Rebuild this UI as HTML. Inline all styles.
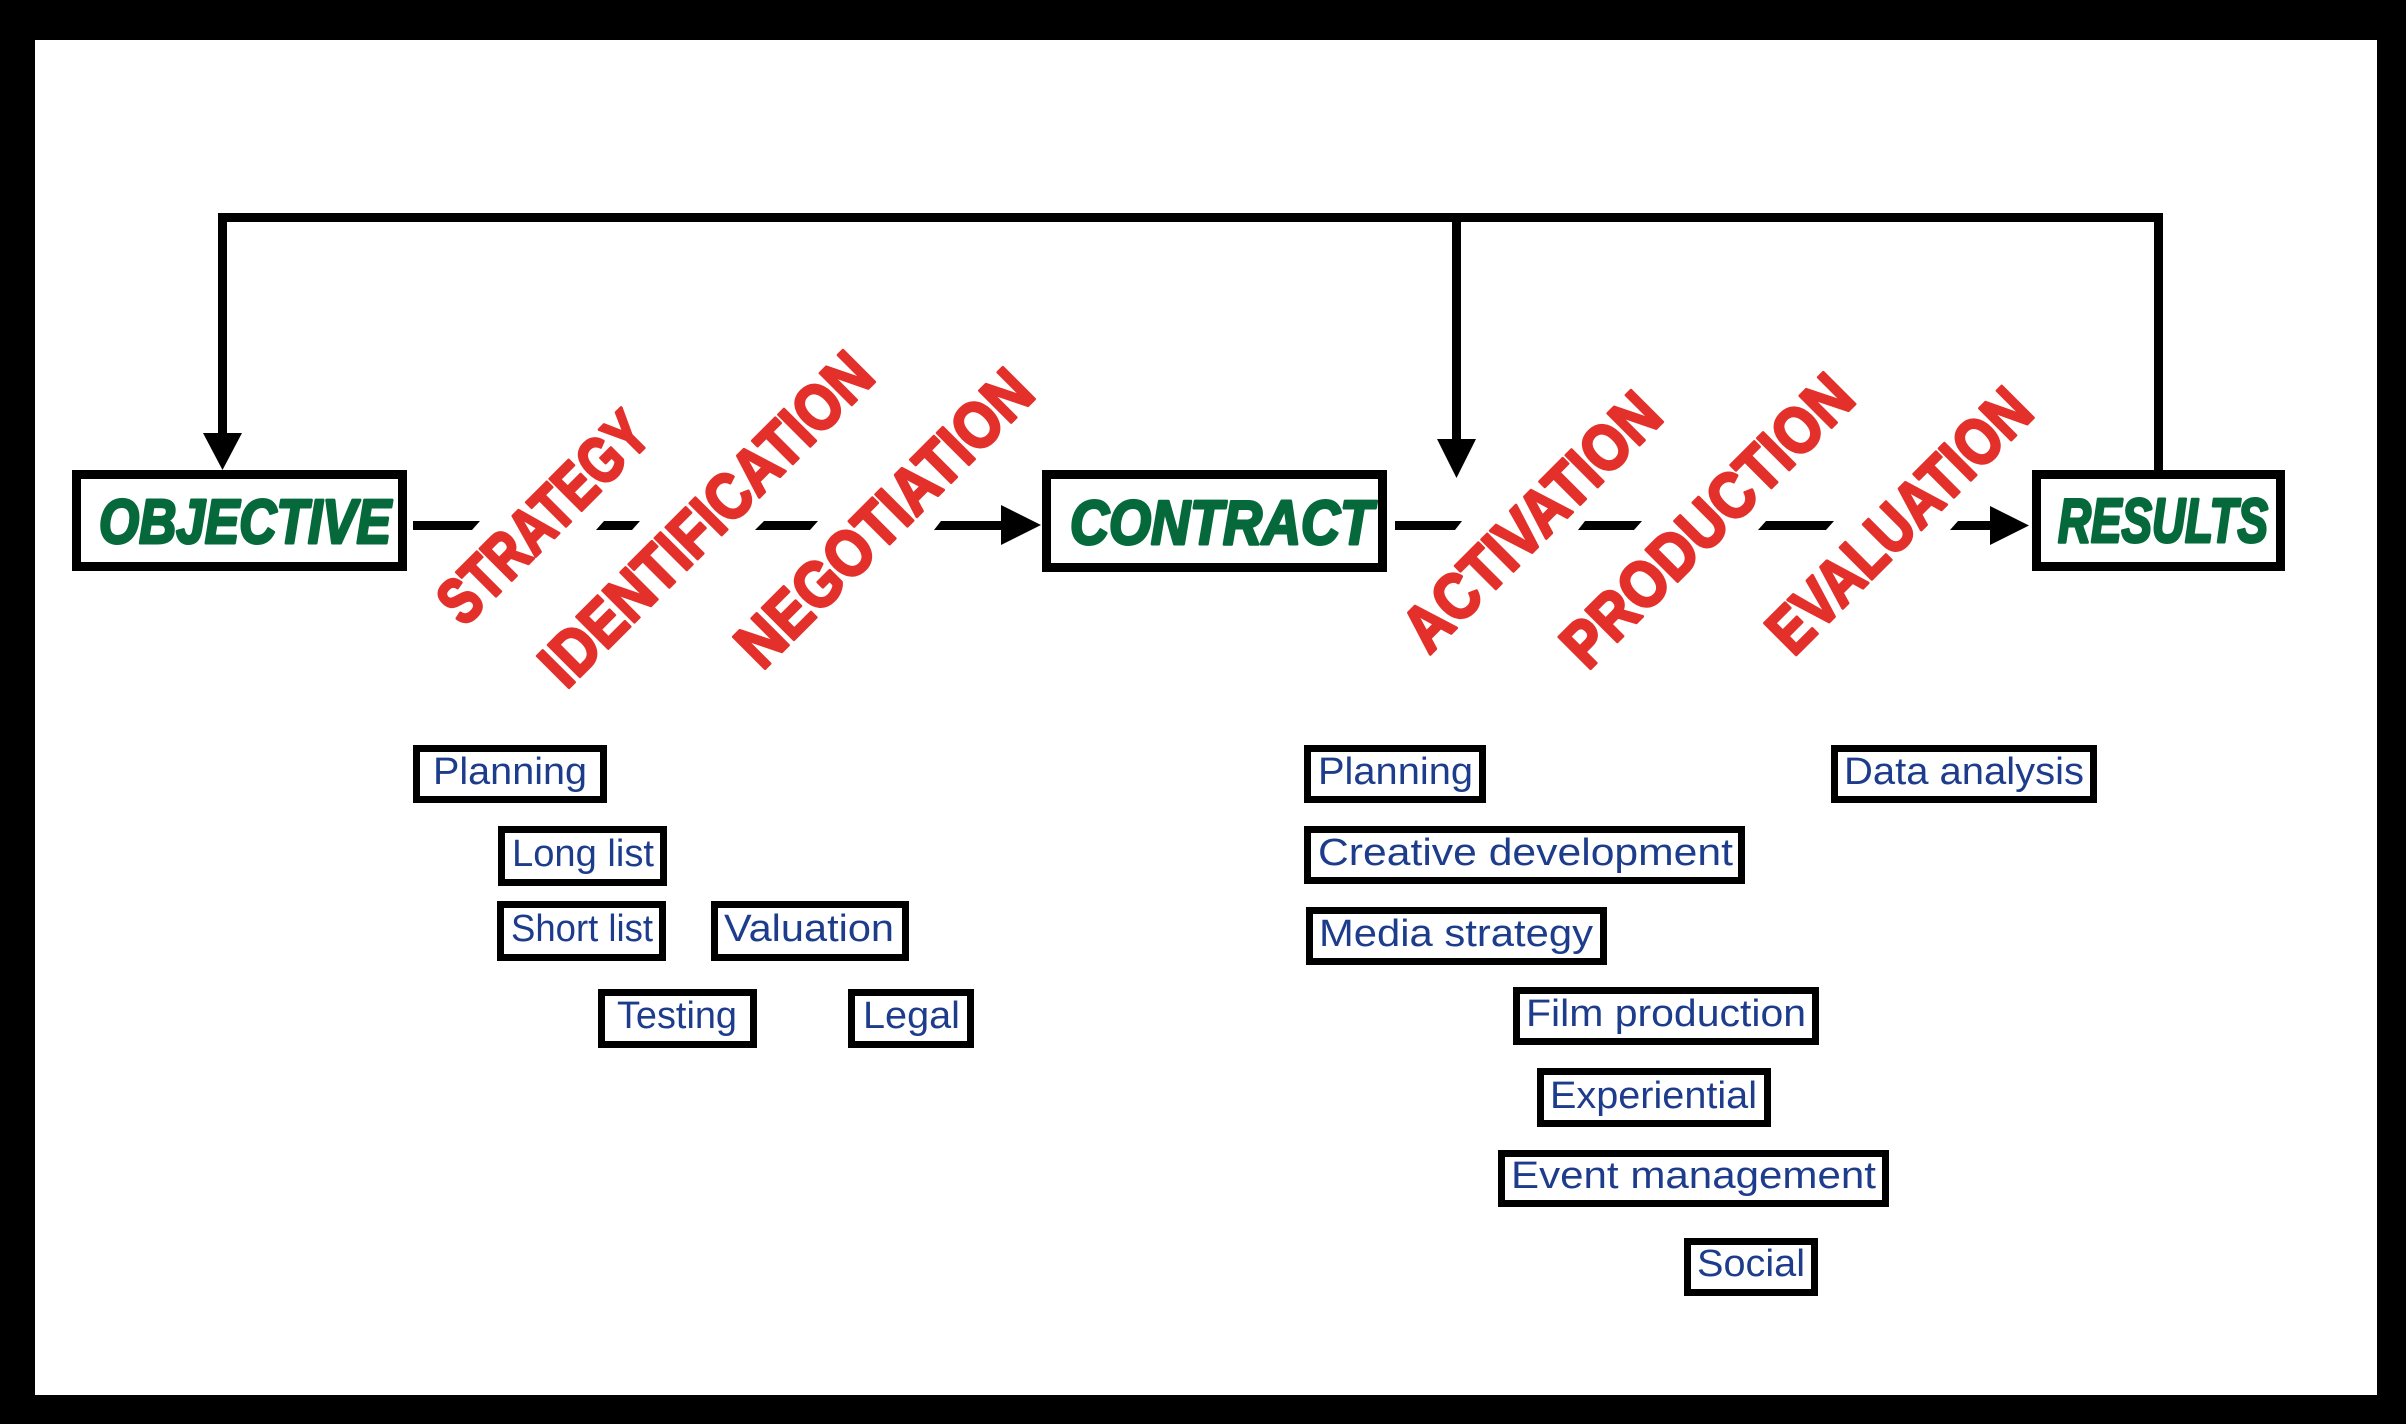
<!DOCTYPE html>
<html>
<head>
<meta charset="utf-8">
<style>
  html, body { margin: 0; padding: 0; background: #000; }
  svg { display: block; }
  .g { font-family: "Liberation Sans", sans-serif; font-weight: bold; font-style: italic; font-size: 62px; fill: #05693b; stroke: #05693b; stroke-width: 3; stroke-linejoin: round; }
  .r { font-family: "Liberation Sans", sans-serif; font-weight: bold; font-size: 65px; fill: #e3302a; stroke: #e3302a; stroke-width: 3; stroke-linejoin: round; }
  .b { font-family: "Liberation Sans", sans-serif; font-size: 38px; fill: #1d3d8c; }
</style>
</head>
<body>
<svg width="2406" height="1424" viewBox="0 0 2406 1424" xmlns="http://www.w3.org/2000/svg">
  <rect x="0" y="0" width="2406" height="1424" fill="#000"/>
  <rect x="35" y="40" width="2342" height="1355" fill="#fff"/>

  <!-- feedback loop -->
  <polyline points="222.5,435 222.5,217.5 2158.5,217.5 2158.5,472" fill="none" stroke="#000" stroke-width="9" stroke-linejoin="miter"/>
  <line x1="1456.5" y1="217" x2="1456.5" y2="441" stroke="#000" stroke-width="9"/>
  <polygon points="203,433 242,433 222.5,470" fill="#000"/>
  <polygon points="1437,439 1476,439 1456.5,478" fill="#000"/>

  <!-- main boxes -->
  <rect x="76.5" y="474.5" width="326" height="92" fill="#fff" stroke="#000" stroke-width="9"/>
  <rect x="1046.5" y="474.5" width="336" height="93" fill="#fff" stroke="#000" stroke-width="9"/>
  <rect x="2036.5" y="474.5" width="244" height="92" fill="#fff" stroke="#000" stroke-width="9"/>
  <text class="g" x="99" y="543" textLength="292" lengthAdjust="spacingAndGlyphs">OBJECTIVE</text>
  <text class="g" x="1070" y="544" textLength="303" lengthAdjust="spacingAndGlyphs">CONTRACT</text>
  <text class="g" x="2058" y="542" textLength="210" lengthAdjust="spacingAndGlyphs">RESULTS</text>

  <!-- dashed connector left -->
  <polygon points="413,521 480,521 472,530 413,530" fill="#000"/>
  <polygon points="604,521 640,521 632,530 596,530" fill="#000"/>
  <polygon points="764,521 818,521 810,530 755,530" fill="#000"/>
  <polygon points="941,521 1002,521 1002,530 934,530" fill="#000"/>
  <polygon points="1001,505 1001,545 1041,525" fill="#000"/>

  <!-- dashed connector right -->
  <polygon points="1395,521 1462,521 1455,530 1395,530" fill="#000"/>
  <polygon points="1585,521 1642,521 1634,530 1578,530" fill="#000"/>
  <polygon points="1766,521 1834,521 1826,530 1758,530" fill="#000"/>
  <polygon points="1958,521 1991,521 1991,530 1950,530" fill="#000"/>
  <polygon points="1990,506 1990,545 2029,525.5" fill="#000"/>

  <!-- red rotated labels -->
  <text class="r" text-anchor="middle" x="0" y="23.7" textLength="268" lengthAdjust="spacingAndGlyphs" transform="translate(542,516.5) rotate(-45)">STRATEGY</text>
  <text class="r" text-anchor="middle" x="0" y="23.7" textLength="440" lengthAdjust="spacingAndGlyphs" transform="translate(705,518) rotate(-45)">IDENTIFICATION</text>
  <text class="r" text-anchor="middle" x="0" y="23.7" textLength="389" lengthAdjust="spacingAndGlyphs" transform="translate(883,517) rotate(-45)">NEGOTIATION</text>
  <text class="r" text-anchor="middle" x="0" y="23.7" textLength="334" lengthAdjust="spacingAndGlyphs" transform="translate(1530.5,520.5) rotate(-45)">ACTIVATION</text>
  <text class="r" text-anchor="middle" x="0" y="23.7" textLength="382" lengthAdjust="spacingAndGlyphs" transform="translate(1706,519.5) rotate(-45)">PRODUCTION</text>
  <text class="r" text-anchor="middle" x="0" y="23.7" textLength="343" lengthAdjust="spacingAndGlyphs" transform="translate(1898,519.5) rotate(-45)">EVALUATION</text>

  <!-- sub boxes -->
  <g fill="#fff" stroke="#000" stroke-width="7">
    <rect x="416.5" y="748.5" width="187" height="51"/>
    <rect x="501.5" y="829.5" width="162" height="53"/>
    <rect x="500.5" y="904.5" width="162" height="53"/>
    <rect x="714.5" y="904.5" width="191" height="53"/>
    <rect x="601.5" y="992.5" width="152" height="52"/>
    <rect x="851.5" y="992.5" width="119" height="52"/>
    <rect x="1307.5" y="748.5" width="175" height="51"/>
    <rect x="1834.5" y="748.5" width="259" height="51"/>
    <rect x="1307.5" y="829.5" width="434" height="51"/>
    <rect x="1309.5" y="910.5" width="294" height="51"/>
    <rect x="1516.5" y="990.5" width="299" height="51"/>
    <rect x="1540.5" y="1071.5" width="227" height="52"/>
    <rect x="1501.5" y="1153.5" width="384" height="50"/>
    <rect x="1687.5" y="1241.5" width="127" height="51"/>
  </g>

  <text class="b" x="433" y="784" textLength="154" lengthAdjust="spacingAndGlyphs">Planning</text>
  <text class="b" x="512" y="866" textLength="142" lengthAdjust="spacingAndGlyphs">Long list</text>
  <text class="b" x="511" y="941" textLength="142" lengthAdjust="spacingAndGlyphs">Short list</text>
  <text class="b" x="724" y="941" textLength="170" lengthAdjust="spacingAndGlyphs">Valuation</text>
  <text class="b" x="617" y="1028" textLength="120" lengthAdjust="spacingAndGlyphs">Testing</text>
  <text class="b" x="863" y="1028" textLength="97" lengthAdjust="spacingAndGlyphs">Legal</text>

  <text class="b" x="1318" y="784" textLength="155" lengthAdjust="spacingAndGlyphs">Planning</text>
  <text class="b" x="1844" y="784" textLength="240" lengthAdjust="spacingAndGlyphs">Data analysis</text>
  <text class="b" x="1318" y="865" textLength="415" lengthAdjust="spacingAndGlyphs">Creative development</text>
  <text class="b" x="1319" y="946" textLength="274" lengthAdjust="spacingAndGlyphs">Media strategy</text>
  <text class="b" x="1526" y="1026" textLength="280" lengthAdjust="spacingAndGlyphs">Film production</text>
  <text class="b" x="1550" y="1108" textLength="207" lengthAdjust="spacingAndGlyphs">Experiential</text>
  <text class="b" x="1511" y="1188" textLength="365" lengthAdjust="spacingAndGlyphs">Event management</text>
  <text class="b" x="1697" y="1276" textLength="108" lengthAdjust="spacingAndGlyphs">Social</text>
</svg>
</body>
</html>
